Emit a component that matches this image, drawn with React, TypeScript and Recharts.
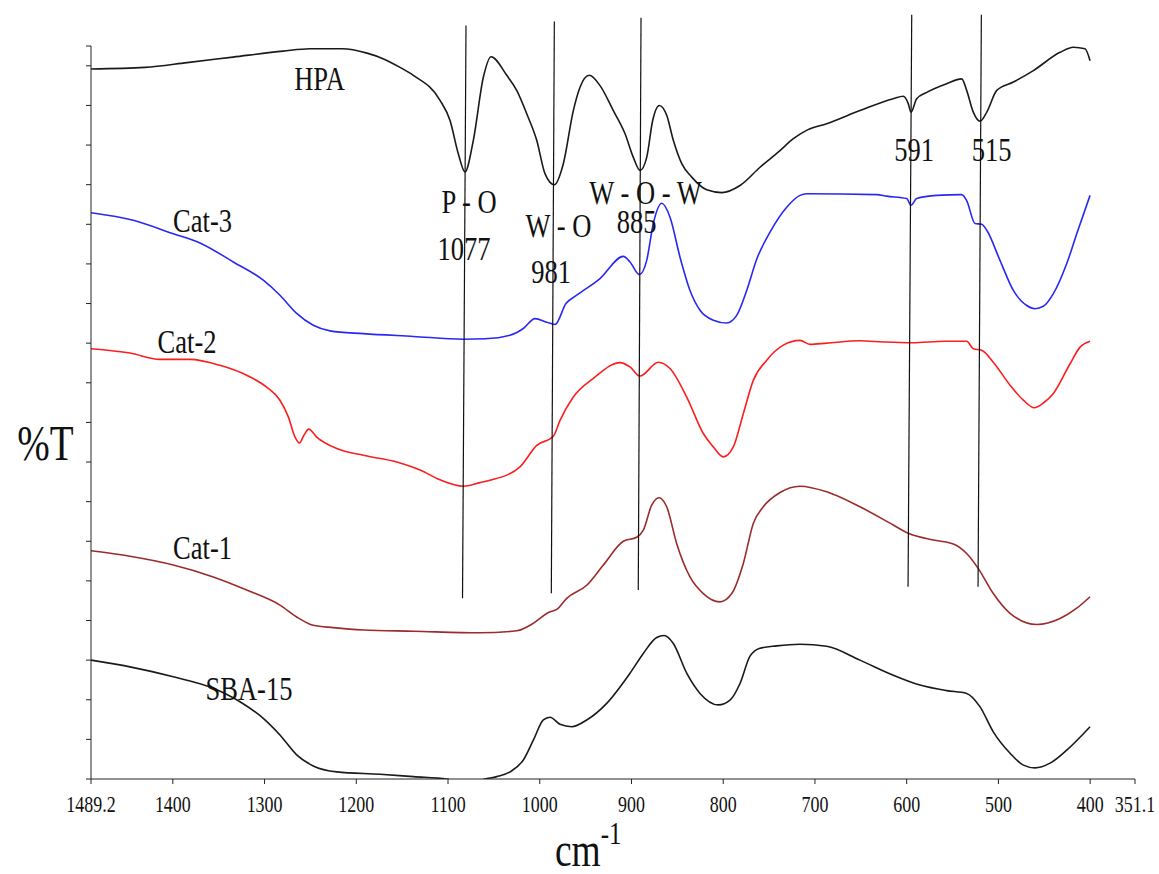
import { Label, Line, LineChart, ReferenceDot, ReferenceLine, XAxis, YAxis } from "recharts";

const FONT = "'Liberation Serif', 'Times New Roman', serif";
const SQUISH = 0.78;

// wavenumber (cm-1), %T (offset, arbitrary units)
const hpa = [
  [1489.2, 179.2], [1430.3, 179.6], [1384.5, 180.8], [1334.4, 182.2], [1279.9, 183.7], [1250.5, 184.3],
  [1215.6, 184.3], [1188.3, 183.2], [1170.9, 181.8], [1152.3, 179.6], [1137.8, 177.6], [1108.7, 171.3],
  [1097.8, 166.2], [1088.8, 157.8], [1081.5, 153.2], [1072.4, 161.2], [1061.5, 177.1], [1053.1, 182.3],
  [1036.0, 177.6], [1025.1, 173.8], [1014.2, 167.9], [1003.3, 161.2], [994.3, 152.8], [984.1, 150.0],
  [974.3, 155.3], [963.4, 168.7], [956.1, 174.6], [946.0, 177.6], [934.3, 175.0], [919.8, 168.7],
  [907.1, 162.9], [898.0, 156.9], [890.7, 153.6], [883.4, 156.9], [876.9, 166.2], [869.7, 170.0],
  [861.6, 167.5], [854.4, 161.2], [845.2, 155.3], [834.3, 151.9], [818.0, 148.7], [801.6, 148.0],
  [781.7, 149.8], [759.9, 154.4], [738.1, 158.6], [723.6, 161.6], [707.6, 163.9], [687.2, 165.4],
  [650.9, 168.7], [614.6, 171.7], [603.7, 172.3], [598.2, 170.4], [595.3, 168.3], [589.1, 171.7],
  [578.2, 173.3], [556.4, 175.5], [540.0, 176.7], [534.6, 173.8], [527.4, 168.3], [520.0, 166.0],
  [512.7, 168.3], [501.8, 173.8], [483.7, 175.9], [461.9, 178.8], [432.8, 183.4], [418.3, 184.7],
  [405.6, 184.3], [400.1, 181.3],
];

const cat3 = [
  [1489.2, 142.9], [1443.1, 141.0], [1399.5, 137.6], [1370.4, 135.3], [1334.1, 130.5], [1301.4, 125.9],
  [1283.2, 122.1], [1265.0, 117.5], [1246.9, 114.5], [1228.7, 113.1], [1192.3, 112.4], [1137.8, 111.7],
  [1083.3, 111.0], [1059.7, 111.1], [1032.4, 112.0], [1017.9, 113.7], [1005.2, 116.2], [992.4, 115.3],
  [983.4, 114.7], [971.4, 120.0], [959.7, 122.1], [934.3, 126.3], [908.9, 131.9], [901.6, 130.5],
  [891.5, 127.3], [883.4, 130.9], [876.2, 140.2], [867.0, 145.3], [858.0, 141.8], [847.1, 131.7],
  [836.2, 123.3], [825.3, 118.3], [810.8, 115.8], [796.2, 115.1], [785.3, 117.0], [774.4, 123.3],
  [763.5, 131.2], [749.0, 138.0], [730.8, 144.3], [716.3, 147.3], [709.0, 147.7], [632.7, 147.5],
  [621.8, 147.1], [600.0, 146.5], [595.3, 144.8], [589.1, 146.5], [567.3, 147.3], [540.0, 147.5],
  [534.6, 146.0], [525.5, 140.2], [518.2, 140.0], [512.7, 138.5], [498.3, 130.9], [483.7, 123.3],
  [469.1, 119.5], [460.1, 118.7], [451.0, 119.3], [440.1, 122.5], [425.5, 130.1], [414.6, 137.6],
  [400.1, 147.3],
];

const cat2 = [
  [1489.2, 108.6], [1446.7, 107.5], [1414.0, 105.9], [1381.3, 105.9], [1348.6, 104.4], [1319.5, 101.9],
  [1297.7, 98.9], [1283.2, 95.6], [1274.1, 91.4], [1266.8, 86.3], [1262.1, 84.8], [1257.0, 86.8],
  [1251.9, 88.3], [1243.2, 86.3], [1221.3, 83.4], [1192.3, 81.7], [1155.9, 80.0], [1130.5, 78.0],
  [1108.7, 75.5], [1083.3, 73.9], [1065.1, 74.8], [1054.2, 75.4], [1021.5, 78.8], [1003.3, 84.2],
  [985.2, 86.5], [977.9, 90.5], [963.4, 96.4], [941.6, 101.1], [912.5, 105.1], [901.6, 104.0],
  [890.7, 101.7], [870.7, 105.2], [858.0, 103.6], [839.8, 96.4], [821.7, 87.2], [810.8, 83.8],
  [799.9, 81.3], [789.0, 83.8], [778.1, 92.2], [767.2, 100.6], [752.6, 105.7], [734.5, 109.5],
  [716.3, 110.7], [705.4, 109.7], [687.2, 110.0], [650.9, 110.6], [625.5, 110.3], [594.5, 110.1],
  [558.2, 110.5], [534.6, 110.5], [527.4, 108.6], [518.2, 108.2], [505.6, 105.2], [487.3, 99.4],
  [472.8, 95.6], [460.9, 93.7], [451.0, 94.9], [440.1, 97.3], [421.9, 104.8], [411.0, 109.0],
  [400.1, 110.5],
];

const cat1 = [
  [1489.2, 57.6], [1446.7, 56.2], [1399.5, 54.0], [1355.9, 51.0], [1319.5, 47.7], [1283.2, 43.9],
  [1265.0, 40.9], [1246.9, 38.8], [1225.1, 38.2], [1192.3, 37.6], [1137.8, 37.3], [1065.1, 36.9],
  [1025.1, 37.4], [1010.6, 38.8], [988.8, 42.2], [981.5, 42.8], [970.6, 45.6], [948.8, 48.9],
  [930.7, 54.0], [908.9, 60.0], [894.3, 61.0], [887.1, 62.8], [878.0, 69.1], [870.0, 71.0],
  [861.6, 68.7], [850.7, 59.4], [836.2, 51.0], [821.7, 46.8], [803.5, 44.7], [790.7, 46.8],
  [778.1, 54.4], [767.2, 64.5], [756.3, 68.7], [738.1, 72.3], [716.3, 73.9], [687.2, 72.5],
  [650.9, 68.7], [614.6, 64.1], [598.2, 62.0], [571.0, 60.3], [549.2, 59.3], [534.6, 56.9],
  [521.9, 53.1], [505.6, 46.8], [487.3, 41.8], [458.2, 39.0], [432.8, 40.5], [414.6, 43.1],
  [400.1, 46.0],
];

const sba15 = [
  [1489.2, 30.0], [1446.7, 28.3], [1399.5, 25.8], [1355.9, 22.9], [1326.8, 19.5], [1301.4, 15.3],
  [1283.2, 11.1], [1265.0, 6.1], [1246.9, 3.3], [1221.3, 1.8], [1174.1, 1.2], [1137.8, 0.6],
  [1101.4, 0.0], [1081.5, -1.5], [1059.7, 0.0], [1046.9, 0.6], [1032.4, 1.8], [1017.9, 4.8],
  [1007.0, 9.8], [996.1, 14.9], [988.8, 15.6], [977.9, 13.8], [965.2, 13.2], [948.8, 14.9],
  [927.0, 19.1], [901.6, 26.7], [887.1, 31.7], [872.5, 35.7], [864.5, 36.2], [854.4, 34.2],
  [839.8, 26.7], [825.3, 21.6], [805.3, 18.7], [792.6, 19.9], [781.7, 24.1], [770.8, 31.0],
  [759.9, 33.0], [741.7, 33.6], [716.3, 34.0], [687.2, 33.5], [650.9, 30.0], [614.6, 26.2],
  [585.5, 23.7], [556.4, 22.3], [534.6, 21.6], [520.0, 18.2], [505.6, 11.9], [487.3, 6.5],
  [472.8, 3.5], [460.1, 2.8], [443.7, 4.0], [425.5, 7.3], [400.1, 13.2],
];

const xTicks = [1489.2, 1400, 1300, 1200, 1100, 1000, 900, 800, 700, 600, 500, 400, 351.1];
const yTicks = [0, 10, 20, 30, 40, 50, 60, 70, 80, 90, 100, 110, 120, 130, 140, 150, 160, 170, 180, 185];

// slanted marker lines: [wavenumber, %T] at top and bottom
const peakLines = [
  [[1080.4, 190.2], [1084.2, 45.6]],
  [[984.1, 191.2], [987.4, 46.9]],
  [[889.6, 192.1], [892.6, 47.7]],
  [[594.5, 192.9], [598.5, 48.5]],
  [[518.6, 192.9], [522.2, 48.5]],
];

// text annotations: label, wavenumber (centre), %T (baseline)
const notes: [string, number, number][] = [
  ["HPA", 1240.1, 173.8],
  ["Cat-3", 1367.6, 138.0],
  ["Cat-2", 1384.5, 107.4],
  ["Cat-1", 1367.6, 55.5],
  ["SBA-15", 1317.0, 19.9],
  ["P - O", 1077.1, 142.8],
  ["1077", 1082.6, 130.9],
  ["W - O", 979.6, 136.7],
  ["981", 987.7, 125.1],
  ["W - O - W", 884.7, 145.0],
  ["885", 894.5, 137.7],
  ["591", 592.0, 156.1],
  ["515", 507.5, 156.1],
];

const series = [
  { name: "HPA", points: hpa, color: "#1a1a1a" },
  { name: "Cat-3", points: cat3, color: "#2828f2" },
  { name: "Cat-2", points: cat2, color: "#fa1e1e" },
  { name: "Cat-1", points: cat1, color: "#9c2b2b" },
  { name: "SBA-15", points: sba15, color: "#1a1a1a" },
];

function Squish({ x, y, size, anchor = "middle", children }: any) {
  return (
    <g transform={`translate(${x} ${y}) scale(${SQUISH} 1)`}>
      <text x={0} y={0} fontSize={size} fontFamily={FONT} textAnchor={anchor} fill="#111">
        {children}
      </text>
    </g>
  );
}

function XTick({ x, y, payload }: any) {
  return (
    <Squish x={x} y={y + 26} size={23}>
      {payload.value}
    </Squish>
  );
}

export default function App() {
  return (
    <div style={{ position: "absolute", left: 0, top: 0 }}>
      <LineChart width={1159} height={874} margin={{ top: 46, right: 24, left: 0, bottom: 0 }}>
        <XAxis
          type="number"
          dataKey="wn"
          domain={[351.1, 1489.2]}
          reversed
          ticks={xTicks}
          interval={0}
          height={95}
          stroke="#222"
          tickSize={5}
          tick={<XTick />}
          allowDataOverflow
        >
          <Label
            content={({ viewBox }: any) => (
              <Squish x={viewBox.x + 464} y={viewBox.y + 87} size={48} anchor="start">
                cm
                <tspan dy={-22} fontSize={32}>-1</tspan>
              </Squish>
            )}
          />
        </XAxis>
        <YAxis
          type="number"
          domain={[0, 185]}
          ticks={yTicks}
          interval={0}
          width={91}
          stroke="#222"
          tickSize={5}
          tickFormatter={() => ""}
          allowDataOverflow
        >
          <Label
            content={({ viewBox }: any) => (
              <Squish x={viewBox.x + viewBox.width / 2} y={viewBox.y + 414} size={50}>
                %T
              </Squish>
            )}
          />
        </YAxis>

        {series.map((s) => (
          <Line
            key={s.name}
            name={s.name}
            data={s.points.map(([wn, t]) => ({ wn, t }))}
            dataKey="t"
            type="monotone"
            stroke={s.color}
            strokeWidth={1.6}
            dot={false}
            activeDot={false}
            isAnimationActive={false}
          />
        ))}

        {peakLines.map(([top, bottom], i) => (
          <ReferenceLine
            key={`pl${i}`}
            segment={[
              { x: top[0], y: top[1] },
              { x: bottom[0], y: bottom[1] },
            ]}
            stroke="#111"
            strokeWidth={1.2}
            ifOverflow="visible"
          />
        ))}

        {notes.map(([text, wn, t]) => (
          <ReferenceDot
            key={text}
            x={wn}
            y={t}
            r={1}
            ifOverflow="visible"
            shape={(p: any) => (
              <Squish x={p.cx} y={p.cy} size={34}>
                {text}
              </Squish>
            )}
          />
        ))}
      </LineChart>
    </div>
  );
}
